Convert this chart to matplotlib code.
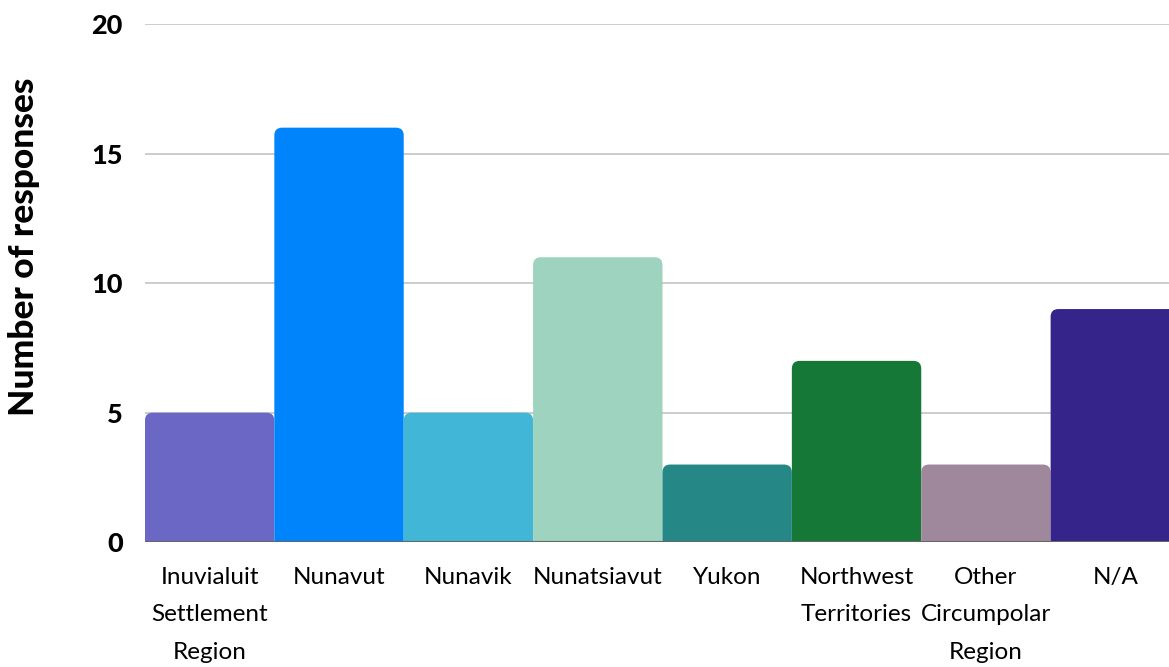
import matplotlib
matplotlib.use('Agg')
import matplotlib.pyplot as plt
from matplotlib.patches import FancyBboxPatch

regions = ['Inuvialuit\nSettlement\nRegion', 'Nunavut', 'Nunavik', 'Nunatsiavut', 'Yukon',
           'Northwest\nTerritories', 'Other\nCircumpolar\nRegion', 'N/A']
responses = [5, 16, 5, 11, 3, 7, 3, 9]
colors = ['#6a68c4', '#0084fc', '#42b6d6', '#9dd3bf', '#268787', '#157836', '#a0889c', '#35248a']

plt.rcParams['font.family'] = ['Lato', 'DejaVu Sans']

fig = plt.figure(figsize=(11.69, 6.67), dpi=100)
ax = fig.add_axes([0.124, 0.187, 0.876, 0.777])

# last bar is cut off by the right edge in the reference
xmax = len(responses) - 0.585
ax.set_xlim(-0.5, xmax)
ax.set_ylim(0, 20)

pad = 0.06
aspect = (20 / (0.777 * 667)) / ((xmax + 0.5) / (0.876 * 1169))
for i, (v, c) in enumerate(zip(responses, colors)):
    box = FancyBboxPatch((i - 0.5 + pad, -2 + pad * aspect), 1 - 2 * pad, v + 2 - 2 * pad * aspect,
                         boxstyle='round,pad=%f' % pad, mutation_aspect=aspect,
                         facecolor=c, edgecolor='none', zorder=3)
    ax.add_patch(box)

ax.set_yticks([0, 5, 10, 15, 20])
ax.yaxis.grid(True, color='#c4c4c4', linewidth=1.2, zorder=0)
ax.axhline(0, color='#666666', linewidth=1.5, zorder=4)
for s in ax.spines.values():
    s.set_visible(False)
ax.tick_params(axis='y', length=0, pad=16, labelsize=19.5)
for t in ax.get_yticklabels():
    t.set_fontweight(900)

ax.set_xticks(range(len(responses)))
ax.set_xticklabels(regions, fontsize=17.5, linespacing=1.95)
ax.tick_params(axis='x', length=0, pad=18)

ax.set_ylabel('Number of responses', fontsize=25.5, fontweight=900)
ax.yaxis.set_label_coords(-0.1025, 0.571)

plt.savefig('out.png', dpi=100)
